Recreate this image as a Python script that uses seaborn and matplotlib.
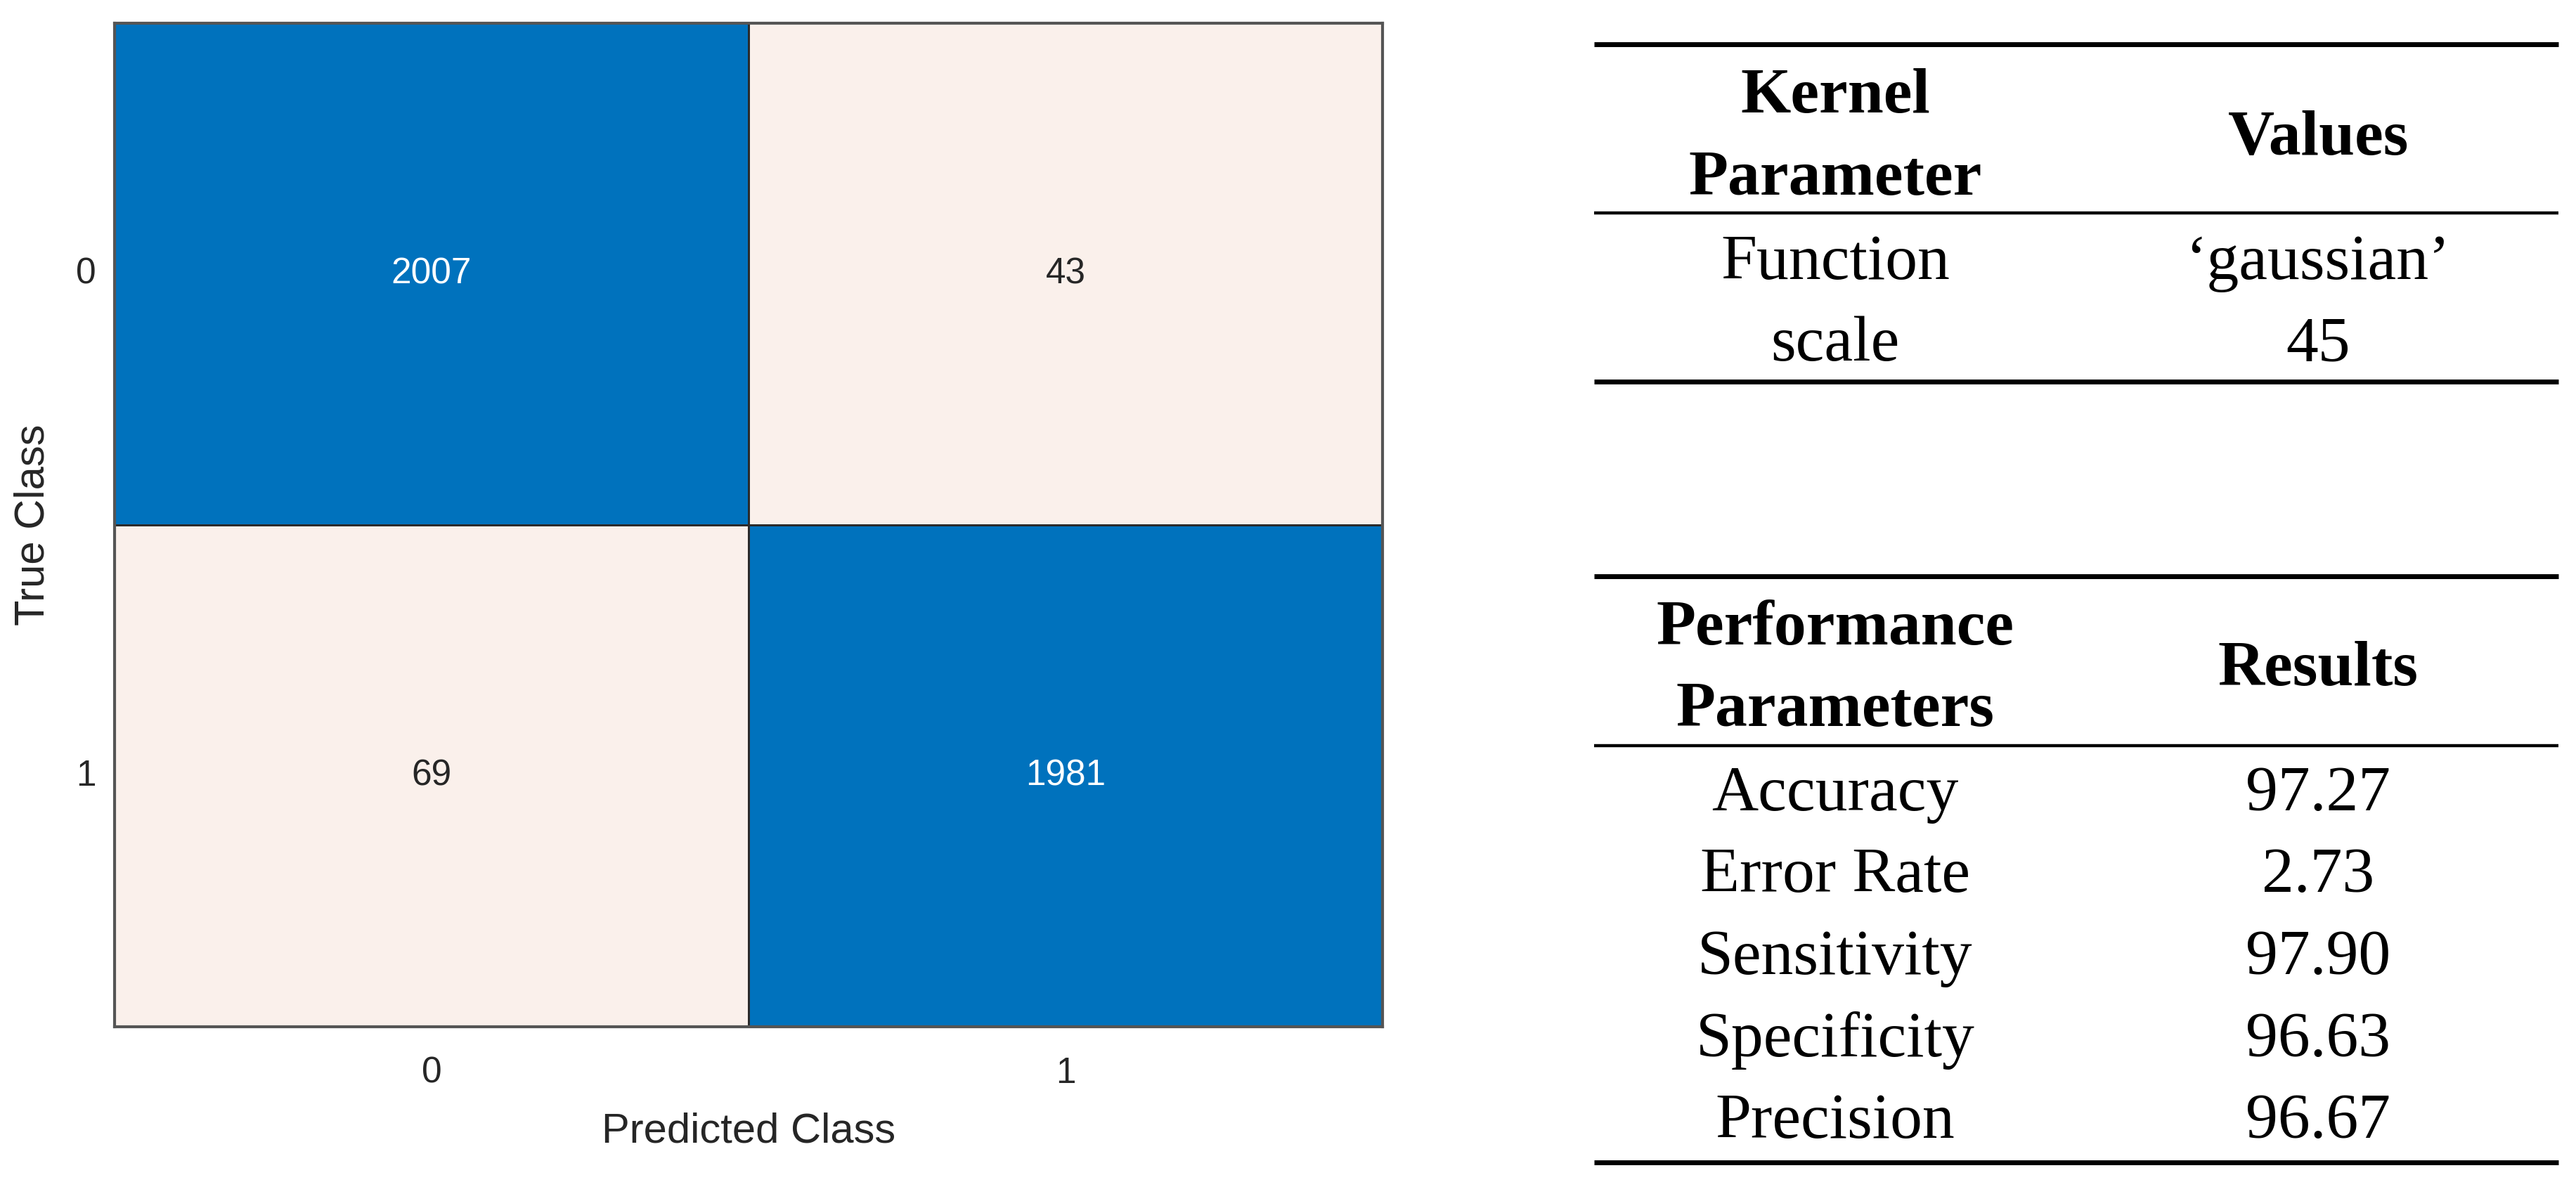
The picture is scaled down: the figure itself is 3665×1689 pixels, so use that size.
import numpy as np
import pandas as pd
import matplotlib
matplotlib.use("Agg")
import matplotlib.pyplot as plt
from matplotlib.colors import LinearSegmentedColormap
import seaborn as sns

# ------------------------------------------------------------
# DATA
# ------------------------------------------------------------
classes = ["0", "1"]
confusion = [[2007, 43],
             [69, 1981]]

kernel_header = ["Kernel\nParameter", "Values"]
kernel_names = ["Function", "scale"]
kernel_values = ["\u2018gaussian\u2019", "45"]

perf_header = ["Performance\nParameters", "Results"]
perf_names = ["Accuracy", "Error Rate", "Sensitivity", "Specificity", "Precision"]
perf_values = ["97.27", "2.73", "97.90", "96.63", "96.67"]

# ------------------------------------------------------------
# STYLE
# ------------------------------------------------------------
sns.set_theme(style="white")
plt.rcParams["font.family"] = ["Liberation Sans", "DejaVu Sans"]
TEXT_COLOR = "#262626"
BLUE = "#0072BD"
LIGHT = "#FAF0EB"
SERIF = ["Liberation Serif", "DejaVu Serif"]
W, H = 3666, 1689

fig = plt.figure(figsize=(W / 100, H / 100), dpi=100)

# ------------------------------------------------------------
# CONFUSION MATRIX
# ------------------------------------------------------------
ax = fig.add_axes([163 / W, 1 - 1461 / H, 1804 / W, 1428 / H])
df_cm = pd.DataFrame(confusion, index=classes, columns=classes)
cmap = LinearSegmentedColormap.from_list("cm", [LIGHT, BLUE])
sns.heatmap(
    df_cm, ax=ax, cmap=cmap, vmin=69, vmax=1981, cbar=False,
    annot=True, fmt="d", annot_kws={"fontsize": 37},
    linewidths=2, linecolor="#2b2b2b", square=False
)
for s in ax.spines.values():
    s.set_visible(True)
    s.set_color("#555555")
    s.set_linewidth(3)

ax.set_xticklabels(classes, rotation=0, fontsize=37, color=TEXT_COLOR)
ax.set_yticklabels(classes, rotation=0, fontsize=37, color=TEXT_COLOR)
ax.tick_params(axis="x", length=0, pad=30)
ax.tick_params(axis="y", length=0, pad=19)
ax.set_xlabel("Predicted Class", fontsize=43, color=TEXT_COLOR, labelpad=22)
ax.set_ylabel("True Class", fontsize=43, color=TEXT_COLOR, labelpad=24)

# ------------------------------------------------------------
# TABLES (drawn in pixel coordinates of the figure)
# ------------------------------------------------------------
tx = fig.add_axes([0, 0, 1, 1], zorder=-1)
tx.set_xlim(0, W)
tx.set_ylim(H, 0)
tx.axis("off")

X0, X1 = 2268, 3640
COL_L, COL_R = 2611, 3298
PITCH = 116.5
FS = 66


def rule(y, lw):
    tx.plot([X0, X1], [y, y], color="black", lw=lw, solid_capstyle="butt")


def cell(x, y, s, bold=False):
    tx.text(x, y, s, ha="center", va="baseline", fontsize=FS,
            family=SERIF, fontweight="bold" if bold else "normal", color="black")


def table(top, header, names, values, head_base_l, head_base_r, head_line, first_row, bottom):
    rule(top, 5)
    for i, part in enumerate(header[0].split("\n")):
        cell(COL_L, head_base_l + i * PITCH, part, bold=True)
    cell(COL_R, head_base_r, header[1], bold=True)
    rule(head_line, 3.2)
    for i, (n, v) in enumerate(zip(names, values)):
        cell(COL_L, first_row + i * PITCH, n)
        cell(COL_R, first_row + i * PITCH, v)
    rule(bottom, 5)


table(63, kernel_header, kernel_names, kernel_values, 160, 220, 303, 397, 543)
table(820, perf_header, perf_names, perf_values, 917, 975, 1061, 1153, 1654)

fig.savefig("out.png", dpi=100, facecolor="white")
